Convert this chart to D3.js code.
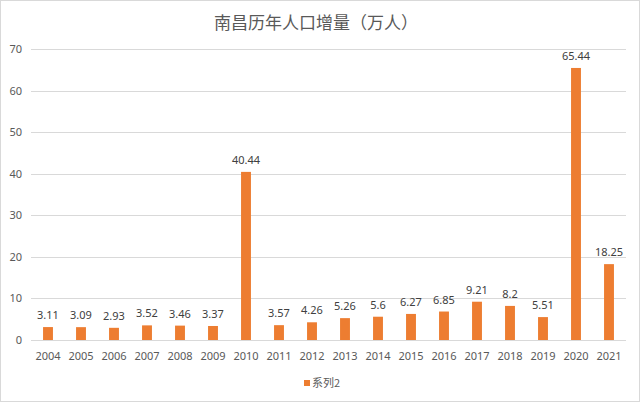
<!DOCTYPE html>
<html><head><meta charset="utf-8">
<script src="https://cdn.jsdelivr.net/npm/d3@7"></script>
<style>body{margin:0;background:#fff}svg{display:block}</style>
</head><body>
<svg id="c" width="640" height="402"></svg>
<script>
const years = ["2004","2005","2006","2007","2008","2009","2010","2011","2012","2013","2014","2015","2016","2017","2018","2019","2020","2021"];
const values = [3.11,3.09,2.93,3.52,3.46,3.37,40.44,3.57,4.26,5.26,5.6,6.27,6.85,9.21,8.2,5.51,65.44,18.25];
const yTicks = [0,10,20,30,40,50,60,70];
const title = "南昌历年人口增量（万人）";
const seriesName = "系列2";

const svg = d3.select("#c");
const font = "'Noto Sans','Noto Sans CJK SC',sans-serif";
svg.append("rect").attr("x",0.5).attr("y",0.5).attr("width",639).attr("height",401)
  .attr("fill","#fff").attr("stroke","#d9d9d9");

const x = d3.scaleBand().domain(years).range([31.5,625.5]).paddingInner(0.7).paddingOuter(0.35);
const y = d3.scaleLinear().domain([0,70]).range([340,49]);

svg.append("g").selectAll("line").data(yTicks).join("line")
  .attr("x1",31).attr("x2",626).attr("y1",d=>Math.round(y(d))+0.5).attr("y2",d=>Math.round(y(d))+0.5)
  .attr("stroke","#d9d9d9").attr("stroke-width",1);

const ya = svg.append("g").attr("transform","translate(22,0)")
  .call(d3.axisLeft(y).tickValues(yTicks).tickSize(0).tickPadding(0));
ya.select(".domain").remove();
ya.selectAll("text").attr("font-family",font).attr("font-size",11).attr("fill","#595959");

const xa = svg.append("g").attr("transform","translate(0,348)")
  .call(d3.axisBottom(x).tickSize(0).tickPadding(4));
xa.select(".domain").remove();
xa.selectAll("text").attr("font-family",font).attr("font-size",11).attr("fill","#595959");

const data = years.map((yr,i)=>({yr,v:values[i]}));
svg.append("g").selectAll("rect").data(data).join("rect")
  .attr("x",d=>x(d.yr)).attr("width",x.bandwidth())
  .attr("y",d=>y(d.v)).attr("height",d=>y(0)-y(d.v)).attr("fill","#ED7D31");

svg.append("g").selectAll("text").data(data).join("text")
  .attr("x",d=>x(d.yr)+x.bandwidth()/2).attr("y",d=>y(d.v)-8)
  .attr("text-anchor","middle").attr("font-family",font).attr("font-size",11).attr("fill","#404040")
  .text(d=>d.v);

svg.append("text").attr("x",316).attr("y",29).attr("text-anchor","middle")
  .attr("font-family","'Noto Sans CJK SC',sans-serif").attr("font-size",17).attr("fill","#595959").text(title);

svg.append("rect").attr("x",304).attr("y",380).attr("width",6).attr("height",6).attr("fill","#ED7D31");
svg.append("text").attr("x",312).attr("y",387).attr("font-family","'Noto Sans CJK SC',sans-serif")
  .attr("font-size",11).attr("fill","#595959").text(seriesName);
</script>
</body></html>
